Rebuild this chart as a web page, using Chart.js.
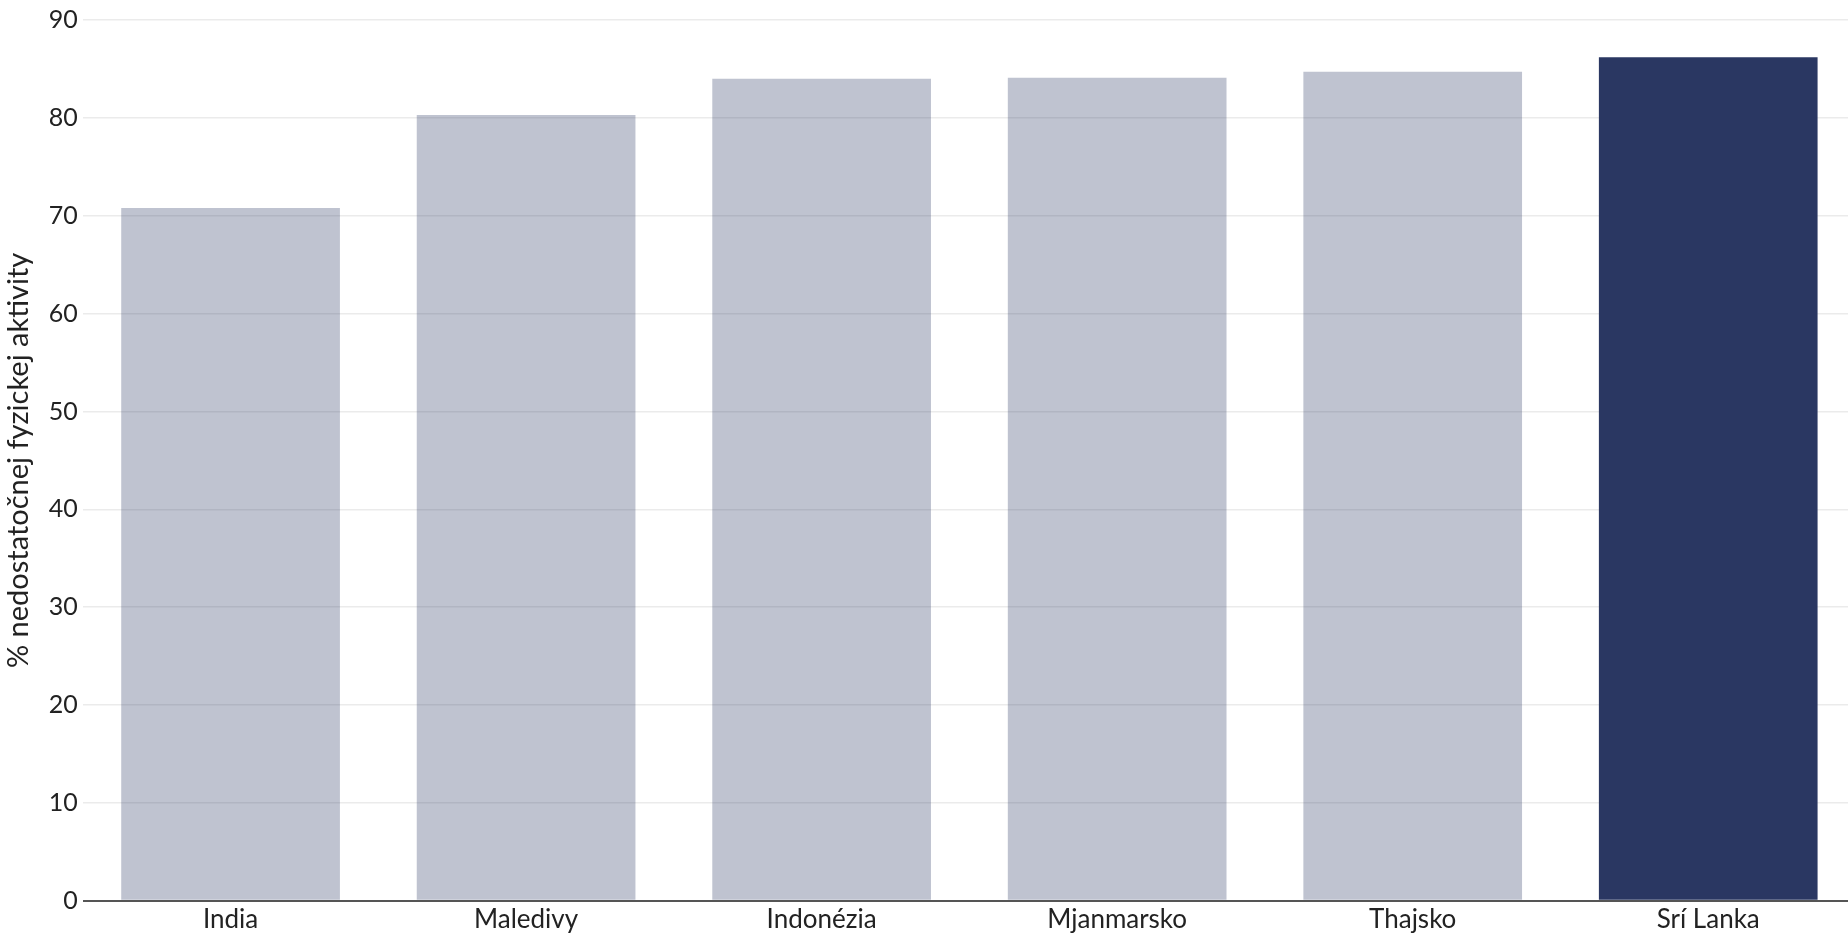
<!DOCTYPE html>
<html>
<head>
<meta charset="utf-8">
<script src="https://cdn.jsdelivr.net/npm/chart.js@4"></script>
<style>
  html, body { margin: 0; padding: 0; background: #fff; overflow: hidden; }
  #wrap { width: 1856px; height: 938px; }
</style>
</head>
<body>
<div id="wrap"><canvas id="myChart"></canvas></div>
<script>
// data
const countries = ['India', 'Maledivy', 'Indonézia', 'Mjanmarsko', 'Thajsko', 'Srí Lanka'];
const inactivity = [70.8, 80.3, 84.0, 84.1, 84.7, 86.2];
const highlight = 'Srí Lanka';
const yTicks = [0, 10, 20, 30, 40, 50, 60, 70, 80, 90];

const navy = 'rgba(42, 55, 98, 1)';
const faded = 'rgba(42, 55, 98, 0.3)';

Chart.defaults.font.family = 'Lato, "Noto Sans", sans-serif';
Chart.defaults.color = '#222';

let ctx = document.getElementById('myChart');

let myChart = new Chart(ctx, {
  type: 'bar',
  data: {
    labels: countries,
    datasets: [{
      label: '% nedostatočnej fyzickej aktivity',
      data: inactivity,
      backgroundColor: countries.map(c => c === highlight ? navy : faded),
      borderWidth: 0,
      barPercentage: 0.74,
      categoryPercentage: 1
    }]
  },
  options: {
    responsive: true,
    maintainAspectRatio: false,
    animation: false,
    layout: { padding: { top: 8, right: 0, bottom: 0, left: 1 } },
    plugins: {
      legend: { display: false },
      tooltip: { enabled: false }
    },
    scales: {
      x: {
        grid: { display: false, drawTicks: false },
        border: { display: false },
        ticks: { font: { size: 26 }, color: '#222', padding: 3 }
      },
      y: {
        min: 0,
        max: 90,
        afterBuildTicks: axis => { axis.ticks = yTicks.map(v => ({ value: v })); },
        grid: {
          drawTicks: false,
          color: c => c.tick && c.tick.value === 0 ? '#555' : '#ebebeb',
          lineWidth: c => c.tick && c.tick.value === 0 ? 2 : 1.5
        },
        border: { display: false },
        ticks: { font: { size: 25 }, color: '#222', padding: 5 },
        title: {
          display: true,
          text: '% nedostatočnej fyzickej aktivity',
          font: { size: 29 },
          color: '#222',
          padding: { top: 0, bottom: 8 }
        }
      }
    }
  }
});
</script>
</body>
</html>
